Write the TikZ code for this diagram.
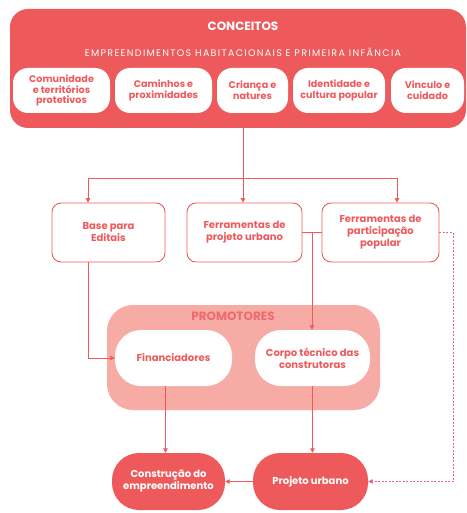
\documentclass[tikz,border=0pt]{standalone}
\usepackage{fontspec}
\setmainfont{Poppins}
\usetikzlibrary{arrows.meta}
\definecolor{coral}{HTML}{EE5A5C}
\definecolor{salmon}{HTML}{F6ABA5}
\definecolor{rose}{HTML}{E8648E}
\definecolor{deepsalmon}{HTML}{EC6A70}

\begin{document}
\begin{tikzpicture}[x=1pt, y=-1pt,
    concept/.style={fill=white, rounded corners=15pt, minimum height=45pt, inner sep=0.5pt, text=coral, align=center, font=\bfseries\fontsize{9.6}{10.8}\selectfont},
    tool/.style={draw=coral, line width=0.9pt, fill=white, rounded corners=9pt, minimum height=59pt, text=coral, align=center, font=\bfseries\fontsize{10}{12}\selectfont},
    promoter/.style={fill=white, rounded corners=26pt, minimum width=116pt, minimum height=56pt, inner sep=1pt, text=coral, align=center, font=\bfseries\fontsize{10}{12}\selectfont},
    result/.style={fill=coral, rounded corners=27pt, minimum height=57pt, inner sep=1pt, text=white, align=center, font=\bfseries\fontsize{10}{12}\selectfont},
    arrow/.style={-{Triangle[length=4.5pt, width=4.5pt]}, coral, line width=0.9pt},
    link/.style={coral, line width=0.9pt}
]
\useasboundingbox (0,0) rectangle (466,513);

% conceitos
\node[fill=coral, rounded corners=18pt, minimum width=456pt, minimum height=119pt] (frame) at (238,68.5) {};
\node[text=white, font=\fontsize{12}{14}\selectfont\bfseries] (title) at (243,26) {CONCEITOS};
\node[text=white, font=\fontsize{9.5}{11}\selectfont\addfontfeatures{LetterSpace=14}] (subtitle) at (243,52) {EMPREENDIMENTOS HABITACIONAIS E PRIMEIRA INFÂNCIA};
\node[concept, minimum width=97pt] (comunidade) at (61.5,90.5) {Comunidade\\e territórios\\protetivos};
\node[concept, minimum width=97pt] (caminhos) at (163.5,90.5) {Caminhos e\\proximidades};
\node[concept, minimum width=71pt] (crianca) at (252.5,90.5) {Criança e\\natures};
\node[concept, minimum width=92pt] (identidade) at (339,90.5) {Identidade e\\cultura popular};
\node[concept, minimum width=73pt] (vinculo) at (427.5,90.5) {Vinculo e\\cuidado};

% ferramentas
\node[tool, minimum width=113pt] (base) at (108.5,232.5) {Base para\\Editais};
\node[tool, minimum width=115pt] (ferramentas) at (244.5,232.5) {Ferramentas de\\projeto urbano};
\node[tool, minimum width=117pt] (participacao) at (380.5,232.5) {Ferramentas de\\participação\\popular};

% promotores
\node[fill=salmon, rounded corners=26pt, minimum width=273pt, minimum height=105pt] (promotores) at (243.5,357.5) {};
\node[text=deepsalmon, font=\bfseries\fontsize{12}{14}\selectfont] (promlabel) at (233,316) {PROMOTORES};
\node[promoter, minimum width=117pt] (financiadores) at (173.5,358) {Financiadores};
\node[promoter, minimum width=115pt] (corpo) at (312.5,358) {Corpo técnico das\\construtoras};

% resultados
\node[result, minimum width=113pt] (construcao) at (168.5,481.5) {Construção do\\empreendimento};
\node[result, minimum width=115pt] (projeto) at (310.5,481.5) {Projeto urbano};

\coordinate (hub) at (243,178);
\coordinate (joint) at (312,232.5);

\draw[link] (frame.south -| hub) -- (hub);
\draw[arrow] (hub) -| ([xshift=-20.5pt]base.north);
\draw[arrow] (hub) -- (hub |- ferramentas.north);
\draw[arrow] (hub) -| ([xshift=16.5pt]participacao.north);
\draw[link] (ferramentas.east) -- (participacao.west);
\draw[arrow] (joint) -- (joint |- corpo.north);
\draw[arrow] ([xshift=-20.5pt]base.south) |- (financiadores.west);
\draw[arrow] ([xshift=-8pt]financiadores.south) -- ([xshift=-8pt]financiadores.south |- construcao.north);
\draw[arrow] (corpo.south) -- (corpo.south |- projeto.north);
\draw[arrow] (projeto.west) -- (construcao.east);
\draw[arrow, rose, dashed, dash pattern=on 2pt off 1.5pt] (participacao.east) -- ++(14,0) |- (projeto.east);
\end{tikzpicture}
\end{document}
